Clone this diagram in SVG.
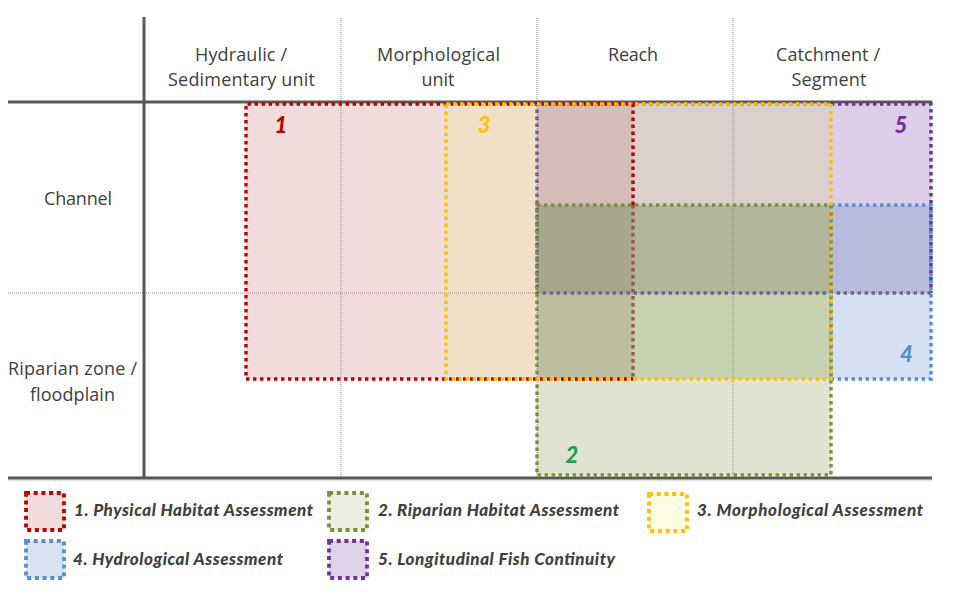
<svg xmlns="http://www.w3.org/2000/svg" width="960" height="600" viewBox="0 0 960 600">
<style>
.hdr{font-family:"Open Sans","Liberation Sans",sans-serif;font-size:18px;fill:#404040;text-anchor:middle}
.num{font-family:Lato,"Liberation Sans",sans-serif;font-size:22px;font-weight:900;font-style:italic;text-anchor:middle}
.leg{font-family:Lato,"Liberation Sans",sans-serif;font-size:17px;font-weight:900;font-style:italic;fill:#404040}
.axis{stroke:#595959;stroke-width:3;fill:none}
.grid{stroke:#8c8c8c;stroke-width:1;stroke-dasharray:1 1;fill:none}
.dot{fill:none;stroke-width:3.4;stroke-dasharray:3.4 3.6}
.sw{stroke-width:3.8;stroke-dasharray:4 3.7}
</style>
<rect width="960" height="600" fill="#ffffff"/>

<g id="overlap-shading">
<rect x="246" y="104" width="200" height="275" fill="#f2dcdb"/>
<rect x="446" y="104" width="91" height="275" fill="#f1e0c8"/>
<rect x="537" y="104" width="96" height="101" fill="#d4bdb7"/>
<rect x="633" y="104" width="198" height="101" fill="#ddd0cc"/>
<rect x="831" y="104" width="100" height="101" fill="#dccde8"/>
<rect x="537" y="205" width="96" height="88" fill="#a9a68f"/>
<rect x="633" y="205" width="198" height="88" fill="#b1b69d"/>
<rect x="831" y="205" width="100" height="88" fill="#b7bbde"/>
<rect x="537" y="293" width="96" height="86" fill="#bdbda0"/>
<rect x="633" y="293" width="198" height="86" fill="#c6d2b0"/>
<rect x="831" y="293" width="100" height="86" fill="#d5e1f2"/>
<rect x="537" y="379" width="294" height="96" fill="#dfe3cf"/>
</g>

<g id="grid">
<line class="grid" x1="341" y1="18" x2="341" y2="478"/>
<line class="grid" x1="537" y1="18" x2="537" y2="478"/>
<line class="grid" x1="733" y1="18" x2="733" y2="478"/>
<line class="grid" x1="8" y1="293" x2="932" y2="293"/>
<line x1="8" y1="480.5" x2="932" y2="480.5" stroke="#000" stroke-opacity="0.1" stroke-width="2"/>
<line class="axis" x1="8" y1="102" x2="932" y2="102"/>
<line class="axis" x1="8" y1="478" x2="932" y2="478"/>
<line class="axis" x1="144" y1="17" x2="144" y2="478"/>
</g>

<g id="headers">
<text class="hdr" x="241" y="61" textLength="92">Hydraulic /</text>
<text class="hdr" x="241.5" y="86" textLength="147">Sedimentary unit</text>
<text class="hdr" x="438.5" y="61" textLength="123">Morphological</text>
<text class="hdr" x="438" y="86" textLength="33">unit</text>
<text class="hdr" x="633" y="61" textLength="50">Reach</text>
<text class="hdr" x="828" y="61" textLength="104">Catchment /</text>
<text class="hdr" x="829" y="86" textLength="75">Segment</text>
<text class="hdr" x="78" y="205" textLength="68">Channel</text>
<text class="hdr" x="72.5" y="375" textLength="129">Riparian zone /</text>
<text class="hdr" x="72.5" y="401" textLength="85">floodplain</text>
</g>

<g id="node-1">
<path class="dot" stroke="#c00000" d="M633,205 V104 H246 V379 H633"/>
<path class="dot" stroke="#a0574a" d="M633,205 V379"/>
<text class="num" x="281" y="133" fill="#c00000">1</text>
</g>

<g id="node-5">
<path class="dot" stroke="#7030a0" d="M537,104 H931 V293"/>
<path class="dot" stroke="#76638a" d="M931,293 H537 V104"/>
<text class="num" x="901" y="133" fill="#7030a0">5</text>
</g>

<g id="node-2">
<rect class="dot" stroke="#76923c" x="537" y="205" width="294" height="270"/>
<text class="num" x="572" y="463" fill="#1fa050">2</text>
</g>

<g id="node-4">
<rect class="dot" stroke="#558ed5" x="831" y="205" width="100" height="174"/>
<text class="num" x="906.5" y="362" fill="#558ed5">4</text>
</g>

<g id="node-3">
<rect class="dot" stroke="#ffc000" x="446" y="104" width="385" height="275"/>
<text class="num" x="484" y="133" fill="#ffc000">3</text>
</g>

<g id="legend">
<g id="legend-1">
<rect class="sw" x="26" y="493" width="38" height="37" fill="#f2dcdb" stroke="#c00000"/>
<text class="leg" x="74" y="516" textLength="239">1. Physical Habitat Assessment</text>
</g>
<g id="legend-2">
<rect class="sw" x="329" y="493" width="38" height="37" fill="#eceee3" stroke="#76923c"/>
<text class="leg" x="378" y="516" textLength="241">2. Riparian Habitat Assessment</text>
</g>
<g id="legend-3">
<rect class="sw" x="649" y="494" width="38" height="37" fill="#fdfbe2" stroke="#ffc000"/>
<text class="leg" x="697" y="516" textLength="226">3. Morphological Assessment</text>
</g>
<g id="legend-4">
<rect class="sw" x="26" y="541" width="38" height="37" fill="#d9e3f1" stroke="#558ed5"/>
<text class="leg" x="73" y="565" textLength="210">4. Hydrological Assessment</text>
</g>
<g id="legend-5">
<rect class="sw" x="329" y="541" width="38" height="37" fill="#dfd3ea" stroke="#7030a0"/>
<text class="leg" x="378" y="565" textLength="237">5. Longitudinal Fish Continuity</text>
</g>
</g>
</svg>
